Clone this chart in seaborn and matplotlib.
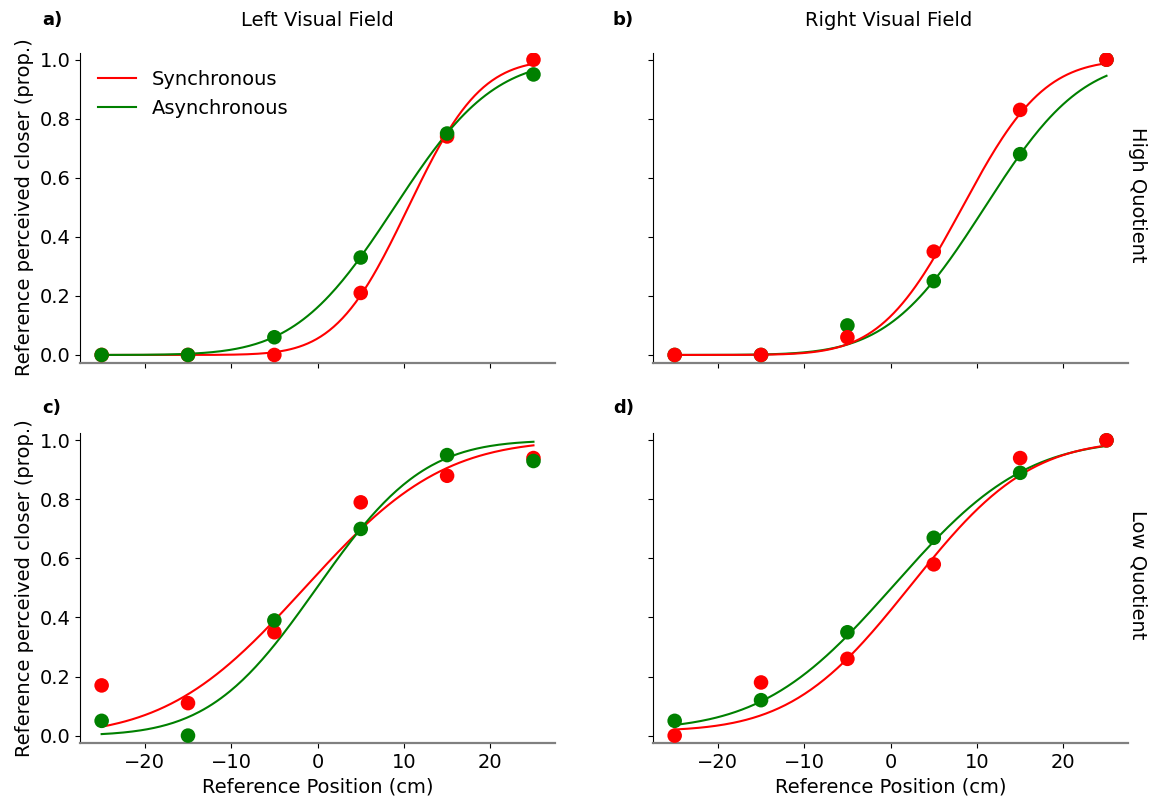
import math
import numpy as np
import pandas as pd
import seaborn as sns
import matplotlib.pyplot as plt

# reference positions (cm)
positions = [-25, -15, -5, 5, 15, 25]

a_sync = [0.0, 0.0, 0.0, 0.21, 0.74, 1.0]
a_async = [0.0, 0.0, 0.06, 0.33, 0.75, 0.95]
b_sync = [0.0, 0.0, 0.06, 0.35, 0.83, 1.0]
b_async = [0.0, 0.0, 0.10, 0.25, 0.68, 1.0]
c_sync = [0.17, 0.11, 0.35, 0.79, 0.88, 0.94]
c_async = [0.05, 0.0, 0.39, 0.70, 0.95, 0.93]
d_sync = [0.0, 0.18, 0.26, 0.58, 0.94, 1.0]
d_async = [0.05, 0.12, 0.35, 0.67, 0.89, 1.0]

# fitted psychometric functions (mean, sd, guess rate), estimated from the curves
fit_sync = {"a": (10.5, 6.6, 0.0), "b": (8.3, 7.4, 0.0), "c": (-1.5, 12.5, 0.0), "d": (2.3, 10.8, 0.015)}
fit_async = {"a": (8.9, 9.0, 0.0), "b": (10.9, 8.8, 0.0), "c": (-0.1, 9.7, 0.0), "d": (0.4, 11.9, 0.02)}

panels = ["a", "b", "c", "d"]
fields = {"a": "Left Visual Field", "b": "Right Visual Field", "c": "Left Visual Field", "d": "Right Visual Field"}
quotients = {"a": "High Quotient", "b": "High Quotient", "c": "Low Quotient", "d": "Low Quotient"}
observed = {"a": (a_sync, a_async), "b": (b_sync, b_async), "c": (c_sync, c_async), "d": (d_sync, d_async)}

palette = {"Synchronous": "red", "Asynchronous": "green"}

rows = []
for p in panels:
    for cond, vals in zip(["Synchronous", "Asynchronous"], observed[p]):
        for x, y in zip(positions, vals):
            rows.append({"panel": p, "condition": cond, "position": x, "prop": y})
df = pd.DataFrame(rows)

xs = np.linspace(-25, 25, 200)
curve_rows = []
for p in panels:
    for cond, fits in [("Synchronous", fit_sync), ("Asynchronous", fit_async)]:
        mu, sd, g = fits[p]
        for x in xs:
            f = 0.5 * (1 + math.erf((x - mu) / (sd * math.sqrt(2))))
            curve_rows.append({"panel": p, "condition": cond, "position": x, "prop": g + (1 - g) * f})
curves = pd.DataFrame(curve_rows)

fig = plt.figure(figsize=(11.6, 7.97), dpi=100)
boxes = {
    "a": [0.069, 0.545, 0.4095, 0.389],
    "b": [0.563, 0.545, 0.4095, 0.389],
    "c": [0.069, 0.0674, 0.4095, 0.389],
    "d": [0.563, 0.0674, 0.4095, 0.389],
}

for p in panels:
    ax = fig.add_axes(boxes[p])
    # left column draws green on top, right column red on top
    order = ["Synchronous", "Asynchronous"] if p in ("a", "c") else ["Asynchronous", "Synchronous"]
    for cond in order:
        sub_c = curves[(curves.panel == p) & (curves.condition == cond)]
        sub_d = df[(df.panel == p) & (df.condition == cond)]
        sns.lineplot(data=sub_c, x="position", y="prop", color=palette[cond], lw=1.5,
                     ax=ax, label=cond if p == "a" else None)
        sns.scatterplot(data=sub_d, x="position", y="prop", color=palette[cond], s=110,
                        edgecolor="none", ax=ax, zorder=3)
    ax.set_xlim(-27.5, 27.5)
    ax.set_ylim(-0.026, 1.024)
    ax.set_xticks([-20, -10, 0, 10, 20])
    ax.set_yticks([0.0, 0.2, 0.4, 0.6, 0.8, 1.0])
    ax.tick_params(labelsize=14)
    sns.despine(ax=ax)
    ax.spines["left"].set_linewidth(0.8)
    ax.spines["bottom"].set_color("#808080")
    ax.spines["bottom"].set_linewidth(1.6)
    if p in ("a", "c"):
        ax.set_ylabel("Reference perceived closer (prop.)", fontsize=14)
    else:
        ax.set_ylabel("")
        ax.tick_params(labelleft=False)
    if p in ("c", "d"):
        ax.set_xlabel("Reference Position (cm)", fontsize=14)
    else:
        ax.set_xlabel("")
        ax.tick_params(labelbottom=False)
    if p == "a":
        handles, labels = ax.get_legend_handles_labels()
        ax.legend(handles, labels, loc="upper left", frameon=False, fontsize=14,
                  bbox_to_anchor=(0.0, 1.0))
    elif ax.get_legend() is not None:
        ax.get_legend().remove()

# panel letters, column titles, row titles
fig.text(42 / 1160, 1 - 20 / 797, "a)", fontsize=13, fontweight="bold", va="center")
fig.text(613 / 1160, 1 - 20 / 797, "b)", fontsize=13, fontweight="bold", va="center")
fig.text(42 / 1160, 1 - 408 / 797, "c)", fontsize=13, fontweight="bold", va="center")
fig.text(613 / 1160, 1 - 408 / 797, "d)", fontsize=13, fontweight="bold", va="center")
fig.text(317 / 1160, 1 - 20 / 797, fields["a"], fontsize=14, ha="center", va="center")
fig.text(889 / 1160, 1 - 20 / 797, fields["b"], fontsize=14, ha="center", va="center")
fig.text(1138 / 1160, 1 - 195 / 797, quotients["a"], fontsize=14, rotation=-90, ha="center", va="center")
fig.text(1138 / 1160, 1 - 575 / 797, quotients["c"], fontsize=14, rotation=-90, ha="center", va="center")

plt.savefig("out.png", dpi=100)
